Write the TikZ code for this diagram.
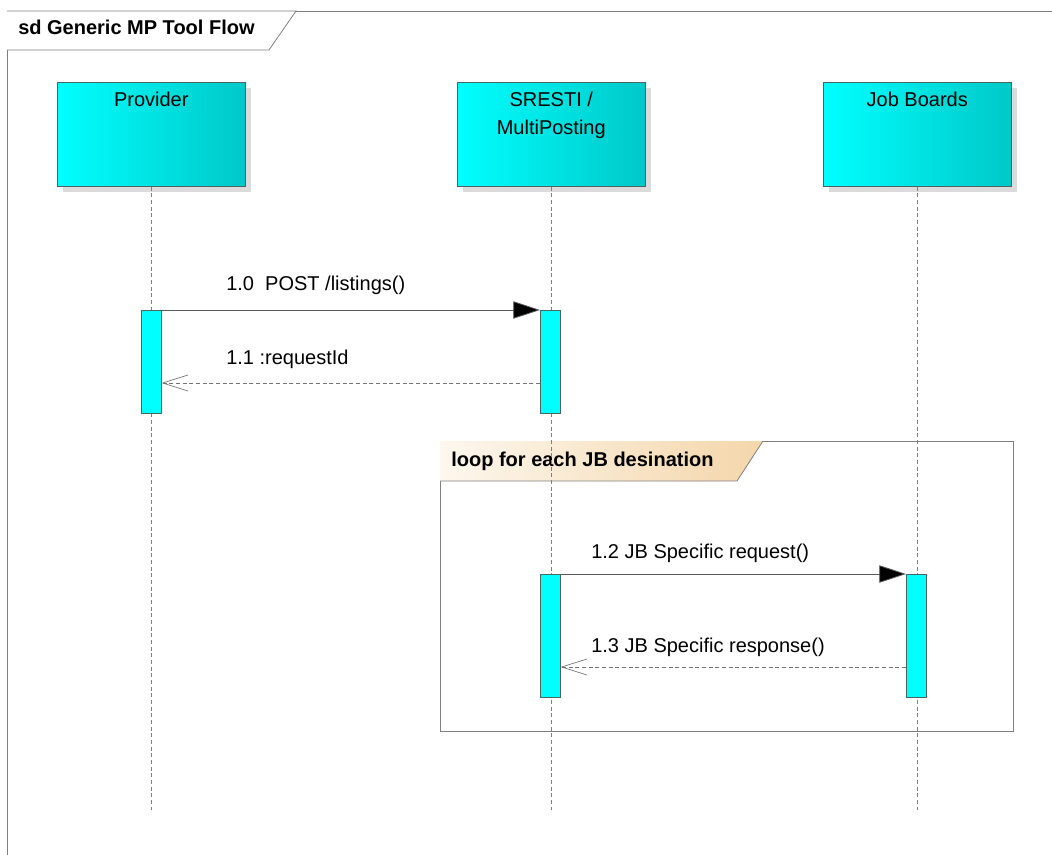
\documentclass[tikz,border=0pt]{standalone}
\usepackage{fontspec}
\setmainfont{Liberation Sans}
\usetikzlibrary{arrows.meta,shadows,positioning,calc}

\definecolor{lifecyan}{HTML}{00FFFF}
\definecolor{lifeteal}{HTML}{00C8C8}
\definecolor{rimgray}{HTML}{4A6464}
\definecolor{framegray}{HTML}{808080}
\definecolor{loopsand}{HTML}{F4D6AA}
\definecolor{loopcream}{HTML}{FDF7EE}

\tikzset{
  lifebox/.style={draw=rimgray, left color=lifecyan, right color=lifeteal, minimum width=141pt, minimum height=78pt, anchor=north west, inner sep=0pt, drop shadow={shadow xshift=4.5pt, shadow yshift=-4.5pt, fill=black!14, opacity=1}},
  boxlabel/.style={anchor=base, inner sep=0pt, align=center, font=\fontsize{15}{21}\selectfont},
  activebar/.style={draw=rimgray, fill=lifecyan, minimum width=15pt, anchor=north west, inner sep=0pt},
  lifeline/.style={framegray, line width=0.5pt, dash pattern=on 3pt off 2pt},
  callmsg/.style={draw=black!65, line width=0.6pt, -{Triangle[length=20pt,width=13pt,fill=black]}},
  replymsg/.style={draw=black!55, line width=0.5pt, dash pattern=on 3pt off 2pt, -{Straight Barb[length=19pt,width=12pt,line width=0.5pt]}},
  msgtext/.style={anchor=base west, inner sep=0pt, font=\fontsize{15}{18}\selectfont},
}

\begin{document}
\begin{tikzpicture}[x=0.75pt, y=-0.75pt]
\clip (0,0) rectangle (1052,855);

% frame of the diagram
\draw[framegray, line width=0.6pt] (7,870) -- (7,11) -- (1060,11);
\draw[framegray, line width=0.6pt, fill=white] (7,11) -- (296,11) -- (269,50) -- (7,50);
\node[msgtext, font=\fontsize{15}{18}\selectfont\bfseries] (title) at (18,35) {sd Generic MP Tool Flow};

% lifeline heads
\node[lifebox] (prov) at (57,82) {};
\node[lifebox] (sresti) at (457,82) {};
\node[lifebox] (jobs) at (823,82) {};
\node[boxlabel] at ([yshift=-18.75pt]prov.north) {Provider};
\node[boxlabel] at ([yshift=-39.75pt]sresti.north) {SRESTI /\\MultiPosting};
\node[boxlabel] at ([yshift=-18.75pt]jobs.north) {Job Boards};

% loop fragment
\draw[framegray, line width=0.6pt] (440,441) rectangle (1013,731);
\path[left color=loopcream, right color=loopsand] (440,441) -- (763,441) -- (737,481) -- (440,481) -- cycle;
\draw[framegray, line width=0.6pt] (763,441) -- (737,481) -- (440,481);
\node[msgtext, font=\fontsize{15}{18}\selectfont\bfseries] (looptxt) at (451,466) {loop for each JB desination};

% lifelines
\coordinate (bottom) at (0,810);
\foreach \who in {prov,sresti,jobs}
  \draw[lifeline] (\who.south) -- (\who.south |- bottom);

% activations
\node[activebar, minimum height=77.25pt] (actP) at (141,310) {};
\node[activebar, minimum height=77.25pt] (actS) at (540,310) {};
\node[activebar, minimum height=92.25pt] (actS2) at (540,574) {};
\node[activebar, minimum height=92.25pt] (actJ) at (906,574) {};

% messages
\coordinate (r11) at (0,383);
\coordinate (r13) at (0,667);
\draw[callmsg] (actP.north east) -- (actS.north west);
\draw[replymsg] (actS.west |- r11) -- (actP.east |- r11);
\draw[callmsg] (actS2.north east) -- (actJ.north west);
\draw[replymsg] (actJ.west |- r13) -- (actS2.east |- r13);

\node[msgtext] (m10) at (226,291) {1.0\ \ POST /listings()};
\node[msgtext] (m11) at (226,364) {1.1 :requestId};
\node[msgtext] (m12) at (591,558) {1.2 JB Specific request()};
\node[msgtext] (m13) at (591,652) {1.3 JB Specific response()};
\end{tikzpicture}
\end{document}
